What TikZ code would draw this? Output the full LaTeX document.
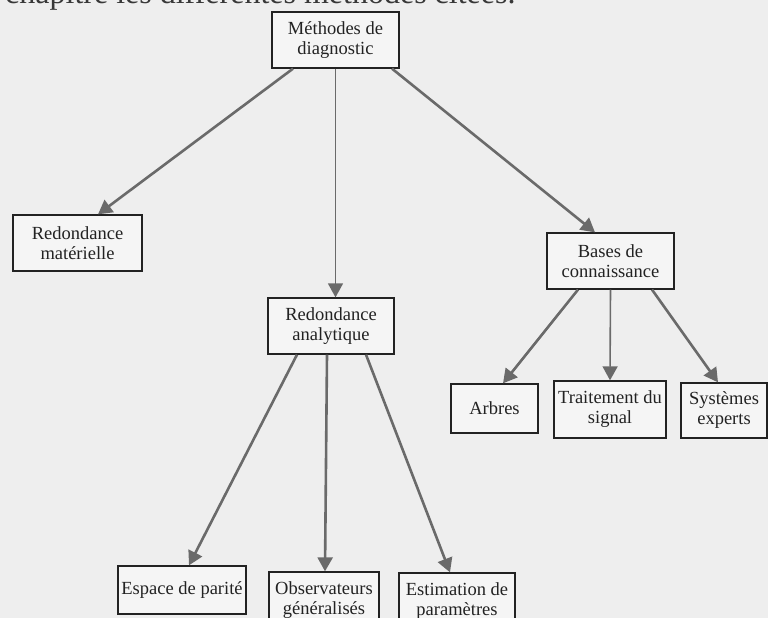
\documentclass[tikz,border=0pt]{standalone}
\usepackage{fontspec}
\setmainfont{Liberation Serif}
\usetikzlibrary{arrows.meta}
\definecolor{bg}{HTML}{EEEEEE}
\definecolor{arr}{HTML}{6A6A6A}
\definecolor{ink}{HTML}{222222}
\tikzset{
  box/.style={draw=ink, line width=1.3pt, fill=bg!60!white, align=center, inner sep=0pt,
    font=\fontsize{18.5}{20}\selectfont, text=ink},
  conn/.style={draw=arr, line width=2.6pt, -{Triangle[length=14pt,width=15pt]}, arr},
  vconn/.style={draw=ink!90, line width=1.6pt, -{Triangle[length=14pt,width=15pt,fill=arr]}, arr},
}
\begin{document}
\begin{tikzpicture}[x=1pt,y=1pt]
\useasboundingbox (0,0) rectangle (768,618);
\fill[bg] (0,0) rectangle (768,618);
\clip (0,0) rectangle (768,618);
\node[anchor=base west, inner sep=0pt, font=\fontsize{32}{36}\selectfont, text=ink!90] (head) at (5,614) {chapitre les différentes méthodes citées.};
% boxes
\node[box, minimum width=127pt, minimum height=56pt] (M) at (335.5,578) {Méthodes de\\diagnostic};
\node[box, minimum width=129pt, minimum height=56pt] (RM) at (77.5,375) {Redondance\\matérielle};
\node[box, minimum width=126pt, minimum height=56pt] (RA) at (331,292) {Redondance\\analytique};
\node[box, minimum width=127pt, minimum height=56pt] (BC) at (610.5,357) {Bases de\\connaissance};
\node[box, minimum width=87pt, minimum height=49pt] (AR) at (494.5,209.5) {Arbres};
\node[box, minimum width=112pt, minimum height=57pt] (TS) at (610,208.5) {Traitement du\\signal};
\node[box, minimum width=86pt, minimum height=55pt] (SE) at (724,207.5) {Systèmes\\experts};
\node[box, minimum width=128pt, minimum height=48pt] (EP) at (182,28) {Espace de parité};
\node[box, minimum width=110pt, minimum height=56pt] (OG) at (324,18) {Observateurs\\généralisés};
\node[box, minimum width=116pt, minimum height=56pt] (EM) at (457,17) {Estimation de\\paramètres};
% connectors
\draw[conn] ([xshift=-42.5pt]M.south) -- ([xshift=20.5pt]RM.north);
\draw[vconn] ([xshift=0pt]M.south) -- ([xshift=4.5pt]RA.north);
\draw[conn] ([xshift=56.5pt]M.south) -- ([xshift=-15.5pt]BC.north);
\draw[conn] ([xshift=-34pt]RA.south) -- ([xshift=7pt]EP.north);
\draw[conn] ([xshift=-4pt]RA.south) -- ([xshift=1pt]OG.north);
\draw[conn] ([xshift=35pt]RA.south) -- ([xshift=-7pt]EM.north);
\draw[conn] ([xshift=-32.5pt]BC.south) -- ([xshift=8.5pt]AR.north);
\draw[vconn] ([xshift=0pt]BC.south) -- ([xshift=0pt]TS.north);
\draw[conn] ([xshift=41.5pt]BC.south) -- ([xshift=-6pt]SE.north);
\end{tikzpicture}
\end{document}
